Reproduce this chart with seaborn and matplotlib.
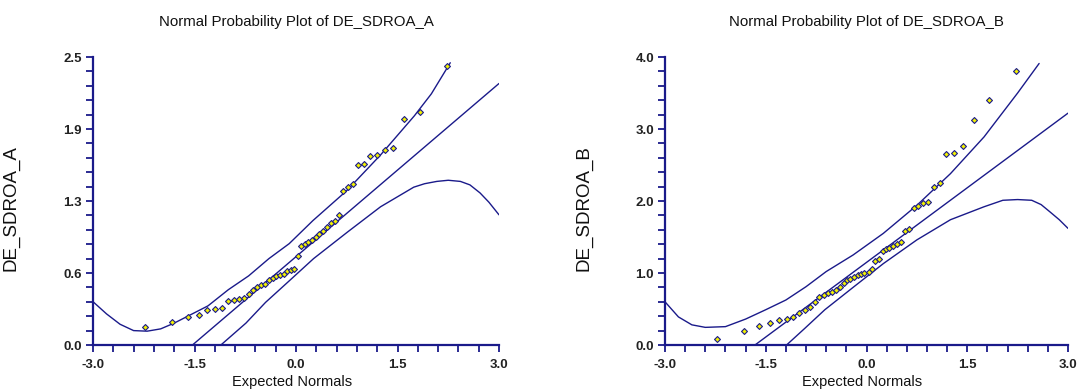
import numpy as np
import pandas as pd
import matplotlib
matplotlib.use("Agg")
import matplotlib.pyplot as plt
import seaborn as sns
from matplotlib.ticker import FixedLocator, MultipleLocator

# ---------------- data ----------------
expected_normals = [-2.23, -1.83, -1.60, -1.44, -1.31, -1.19, -1.09, -1.00, -0.92, -0.84,
                    -0.77, -0.70, -0.64, -0.58, -0.52, -0.46, -0.40, -0.34, -0.29, -0.24,
                    -0.18, -0.13, -0.08, -0.03, 0.03, 0.08, 0.13, 0.18, 0.24, 0.29,
                    0.34, 0.40, 0.46, 0.52, 0.58, 0.64, 0.70, 0.77, 0.84, 0.92,
                    1.00, 1.09, 1.19, 1.31, 1.44, 1.60, 1.83, 2.23]

sdroa_a = [0.16, 0.20, 0.24, 0.26, 0.30, 0.31, 0.32, 0.38, 0.39, 0.40,
           0.41, 0.44, 0.48, 0.50, 0.52, 0.53, 0.56, 0.58, 0.60, 0.61,
           0.62, 0.64, 0.65, 0.66, 0.77, 0.86, 0.88, 0.89, 0.91, 0.94,
           0.96, 0.99, 1.02, 1.06, 1.08, 1.13, 1.34, 1.37, 1.40, 1.56,
           1.57, 1.64, 1.65, 1.69, 1.71, 1.96, 2.02, 2.42]

sdroa_b = [0.09, 0.19, 0.27, 0.30, 0.35, 0.36, 0.39, 0.44, 0.48, 0.53,
           0.60, 0.66, 0.70, 0.72, 0.74, 0.77, 0.80, 0.86, 0.90, 0.92,
           0.95, 0.97, 0.99, 1.00, 1.02, 1.05, 1.17, 1.19, 1.31, 1.33,
           1.35, 1.38, 1.40, 1.43, 1.58, 1.61, 1.90, 1.93, 1.97, 1.98,
           2.19, 2.25, 2.65, 2.66, 2.76, 3.12, 3.40, 3.81]

# reference (fitted) lines
ref_a_x = [-1.53, 3.0]
ref_a_y = [0.0, 2.27]
ref_b_x = [-1.66, 3.0]
ref_b_y = [0.0, 3.22]

# confidence band curves
upper_a_x = [-3.0, -2.8, -2.6, -2.4, -2.2, -2.0, -1.8, -1.6, -1.3, -1.0, -0.7, -0.4,
             -0.1, 0.25, 0.75, 1.25, 1.75, 2.0, 2.28]
upper_a_y = [0.376, 0.27, 0.18, 0.125, 0.12, 0.14, 0.19, 0.25, 0.34, 0.48, 0.60, 0.75,
             0.88, 1.08, 1.34, 1.65, 1.99, 2.18, 2.45]
lower_a_x = [-1.11, -0.74, -0.45, -0.15, 0.26, 0.76, 1.25, 1.74, 1.9, 2.08, 2.25, 2.43,
             2.57, 2.72, 2.85, 3.0]
lower_a_y = [0.0, 0.19, 0.37, 0.53, 0.75, 0.98, 1.20, 1.37, 1.40, 1.42, 1.43, 1.42,
             1.39, 1.32, 1.24, 1.13]

upper_b_x = [-3.0, -2.8, -2.6, -2.4, -2.1, -1.8, -1.5, -1.2, -0.9, -0.6, -0.2, 0.25,
             0.75, 1.25, 1.75, 2.25, 2.57]
upper_b_y = [0.60, 0.39, 0.28, 0.245, 0.255, 0.36, 0.49, 0.625, 0.81, 1.02, 1.25, 1.55,
             1.94, 2.38, 2.89, 3.50, 3.91]
lower_b_x = [-1.19, -0.92, -0.62, -0.2, 0.25, 0.75, 1.25, 1.75, 2.03, 2.25, 2.46, 2.6,
             2.73, 2.87, 3.0]
lower_b_y = [0.0, 0.23, 0.49, 0.80, 1.13, 1.46, 1.74, 1.92, 2.01, 2.02, 2.01, 1.95,
             1.85, 1.74, 1.62]

x_ticks = [-3.0, -1.5, 0.0, 1.5, 3.0]
x_tick_labels = ["-3.0", "-1.5", "0.0", "1.5", "3.0"]
y_ticks_a = [0.0, 0.625, 1.25, 1.875, 2.5]
y_tick_labels_a = ["0.0", "0.6", "1.3", "1.9", "2.5"]
y_ticks_b = [0.0, 1.0, 2.0, 3.0, 4.0]
y_tick_labels_b = ["0.0", "1.0", "2.0", "3.0", "4.0"]

titles = ["Normal Probability Plot of DE_SDROA_A", "Normal Probability Plot of DE_SDROA_B"]
ylabels = ["DE_SDROA_A", "DE_SDROA_B"]
xlabel = "Expected Normals"

# ---------------- style ----------------
sns.set_theme(style="white")
plt.rcParams["font.family"] = ["Liberation Sans", "DejaVu Sans"]

NAVY = "#1a1a8a"
YELLOW = "#f2f200"
TEXT = "#111111"

fig = plt.figure(figsize=(10.79, 3.92), dpi=100)
W, H = 1079, 392
ax_a = fig.add_axes([93 / W, (H - 345) / H, 406 / W, 288 / H])
ax_b = fig.add_axes([665 / W, (H - 345) / H, 403 / W, 288 / H])

panels = [
    (ax_a, sdroa_a, ref_a_x, ref_a_y, upper_a_x, upper_a_y, lower_a_x, lower_a_y,
     (0, 2.5), y_ticks_a, y_tick_labels_a, 0.125, titles[0], ylabels[0]),
    (ax_b, sdroa_b, ref_b_x, ref_b_y, upper_b_x, upper_b_y, lower_b_x, lower_b_y,
     (0, 4.0), y_ticks_b, y_tick_labels_b, 0.2, titles[1], ylabels[1]),
]

for (ax, yvals, rx, ry, ux, uy, lx, ly, ylim, yt, ytl, yminor, title, ylab) in panels:
    for cx, cy in [(rx, ry), (ux, uy), (lx, ly)]:
        sns.lineplot(x=cx, y=cy, ax=ax, color=NAVY, linewidth=1.0, sort=False,
                     estimator=None, zorder=2)
    sns.scatterplot(x=expected_normals, y=yvals, ax=ax, marker="D", s=9,
                    color=YELLOW, edgecolor=NAVY, linewidth=0.8, zorder=3)

    ax.set_xlim(-3, 3)
    ax.set_ylim(*ylim)
    for side in ["top", "right"]:
        ax.spines[side].set_visible(False)
    for side in ["left", "bottom"]:
        ax.spines[side].set_color(NAVY)
        ax.spines[side].set_linewidth(1.6)

    ax.xaxis.set_major_locator(FixedLocator(x_ticks))
    ax.set_xticklabels(x_tick_labels, fontweight="bold")
    ax.xaxis.set_minor_locator(MultipleLocator(0.3))
    ax.yaxis.set_major_locator(FixedLocator(yt))
    ax.set_yticklabels(ytl, fontweight="bold")
    ax.yaxis.set_minor_locator(MultipleLocator(yminor))
    ax.tick_params(which="both", direction="out", length=5, width=1.3, color=NAVY,
                   bottom=True, left=True, labelsize=9.5, labelcolor="#222222")
    ax.tick_params(axis="x", pad=5)
    ax.tick_params(axis="y", pad=3)

    ax.set_xlabel(xlabel, fontsize=10.5, color=TEXT)
    ax.xaxis.set_label_coords(0.49, -0.105)
    ax.set_ylabel(ylab, fontsize=13.5, color=TEXT)
    ax.yaxis.set_label_coords(-0.18, 0.476)
    ax.set_title(title, fontsize=10.8, color=TEXT, y=1.108, pad=0)
    ax.grid(False)

fig.savefig("out.png", dpi=100)
